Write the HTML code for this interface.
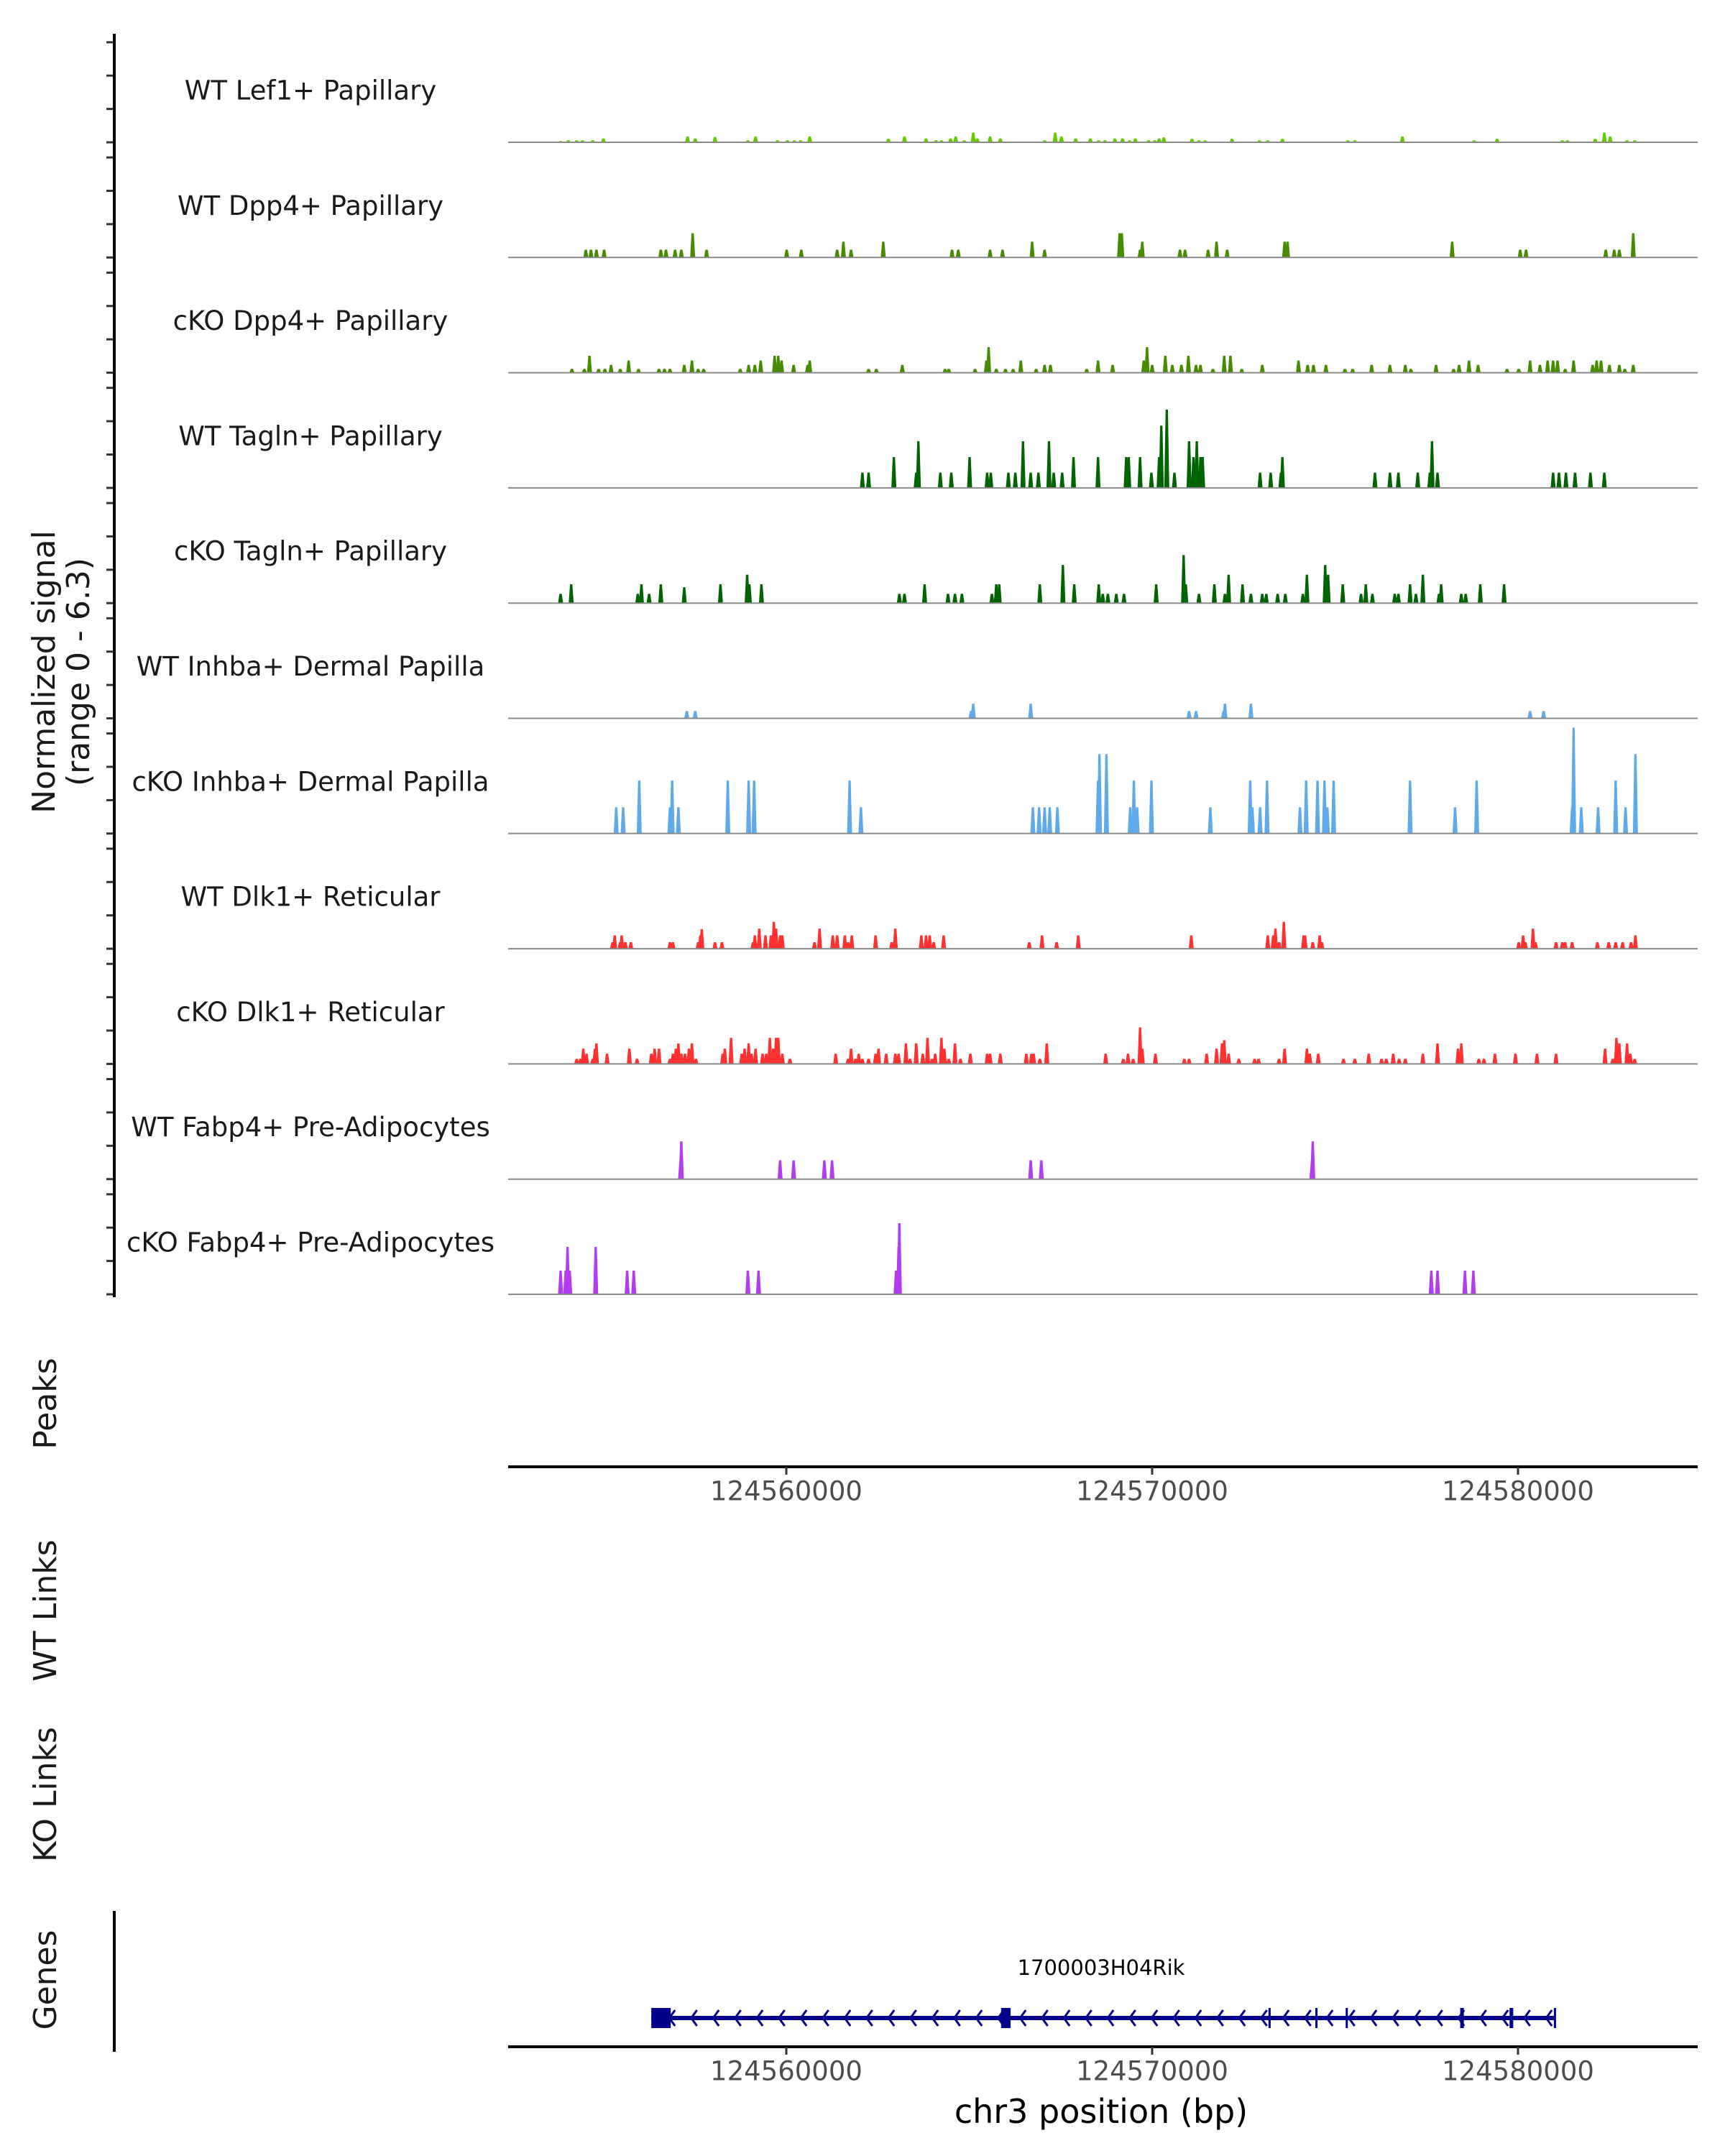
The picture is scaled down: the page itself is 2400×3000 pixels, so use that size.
<!DOCTYPE html>
<html><head><meta charset="utf-8"><style>
html,body{margin:0;padding:0;background:#fff;}
svg{display:block;font-family:"DejaVu Sans","Liberation Sans",sans-serif;}
</style></head><body>
<svg id="chart" width="2400" height="3000" viewBox="0 0 2400 3000" xmlns="http://www.w3.org/2000/svg">
<rect width="2400" height="3000" fill="#fff"/>
<g id="tracks"></g>
<g id="yaxis"></g>
<text transform="translate(86,935) rotate(-90)" text-anchor="middle" font-size="44" fill="#1a1a1a"><tspan x="0" dy="-10">Normalized signal</tspan><tspan x="0" dy="48">(range 0 - 6.3)</tspan></text>
<text transform="translate(78,1953) rotate(-90)" text-anchor="middle" font-size="44" fill="#1a1a1a">Peaks</text>
<text transform="translate(78,2241) rotate(-90)" text-anchor="middle" font-size="44" fill="#1a1a1a">WT Links</text>
<text transform="translate(78,2497) rotate(-90)" text-anchor="middle" font-size="44" fill="#1a1a1a">KO Links</text>
<text transform="translate(78,2755) rotate(-90)" text-anchor="middle" font-size="44" fill="#1a1a1a">Genes</text>
<line x1="159" y1="2659" x2="159" y2="2855" stroke="#000" stroke-width="4"/>
<g id="xaxes"></g>
<g id="gene"></g>
<text x="1532" y="2954" text-anchor="middle" font-size="46" fill="#000">chr3 position (bp)</text>
</svg>
<script>
// region offset in kb from 124,550,000
const regionStart = 124550000;
const xDomain = [2.397, 34.912];
const xTicksKb = [10, 20, 30];
const xTickLabels = ["124560000", "124570000", "124580000"];
const yTicks = [0, 2, 4, 6];
const trackNames = ["WT Lef1+ Papillary","WT Dpp4+ Papillary","cKO Dpp4+ Papillary","WT Tagln+ Papillary","cKO Tagln+ Papillary","WT Inhba+ Dermal Papilla","cKO Inhba+ Dermal Papilla","WT Dlk1+ Reticular","cKO Dlk1+ Reticular","WT Fabp4+ Pre-Adipocytes","cKO Fabp4+ Pre-Adipocytes"];
const trackColors = ["#62cc00","#468c00","#468c00","#006400","#006400","#5eaaea","#5eaaea","#ff3030","#ff3030","#b23cf0","#b23cf0"];

const lef1Pos = [3.83,4.04,4.27,4.43,4.71,5.0,7.30,7.51,8.05,8.95,9.16,9.76,10.03,10.22,10.39,10.64,12.79,13.23,13.82,14.09,14.24,14.49,14.63,14.86,15.11,15.22,15.57,15.85,17.06,17.35,17.52,17.91,18.31,18.54,18.71,18.98,19.19,19.38,19.54,19.90,20.07,20.19,20.32,21.09,21.28,21.45,22.18,22.93,23.16,23.56,25.35,25.54,26.84,28.80,29.43,31.21,31.35,32.11,32.36,32.52,32.98,33.19];
const lef1Val = [.07,.11,.11,.11,.11,.21,.32,.21,.29,.11,.32,.11,.11,.11,.11,.32,.19,.32,.21,.11,.11,.21,.32,.11,.53,.21,.32,.21,.11,.53,.32,.21,.21,.11,.11,.21,.21,.11,.21,.11,.11,.21,.27,.19,.11,.11,.19,.11,.11,.19,.11,.11,.32,.11,.19,.11,.11,.19,.53,.32,.11,.11];

const wtDpp4Pos = [4.52,4.66,4.81,5.02,6.57,6.71,6.96,7.13,7.44,7.82,10.01,10.41,11.39,11.56,11.77,12.65,14.53,14.70,15.57,15.91,16.72,17.06,19.11,19.17,19.67,19.73,20.76,20.90,21.53,21.76,22.05,23.62,23.70,28.20,30.06,30.22,32.40,32.63,32.77,33.15];
const wtDpp4Val = [.43,.43,.43,.43,.43,.43,.43,.43,1.33,.43,.43,.43,.43,.87,.43,.87,.43,.43,.43,.43,.87,.43,1.33,1.33,.43,.87,.43,.43,.43,.87,.43,.87,.87,.87,.43,.43,.43,.43,.43,1.33];

const koDpp4Pos = [4.14,4.48,4.62,4.87,5.04,5.21,5.46,5.69,5.96,6.52,6.67,6.82,7.21,7.42,7.59,7.74,8.74,8.97,9.14,9.30,9.68,9.78,9.87,10.20,10.58,10.64,12.25,12.46,13.17,14.34,14.44,15.16,15.47,15.53,15.74,15.99,16.20,16.41,16.83,17.06,17.22,18.21,18.52,18.92,19.77,19.86,20.00,20.36,20.55,20.80,20.99,21.20,21.32,21.66,21.97,22.14,22.45,23.01,24.00,24.25,24.41,24.75,25.27,25.48,26.00,26.50,26.92,27.07,27.76,28.24,28.39,28.66,28.91,29.70,30.02,30.33,30.60,30.81,30.96,31.08,31.29,31.52,32.04,32.15,32.27,32.50,32.77,32.92,33.15];
const koDpp4Val = [.21,.21,.93,.21,.21,.43,.21,.67,.21,.21,.21,.21,.43,.67,.21,.21,.21,.43,.43,.67,.93,.93,.67,.43,.43,.67,.21,.21,.43,.21,.21,.21,.67,1.4,.21,.21,.21,.67,.21,.43,.43,.21,.67,.43,.67,1.4,.43,.93,.43,.43,.93,.43,.43,.21,.93,.93,.21,.43,.67,.43,.43,.43,.21,.21,.43,.43,.43,.21,.43,.21,.43,.67,.43,.21,.21,.67,.43,.67,.67,.67,.21,.67,.43,.67,.67,.43,.43,.21,.43];

const wtTaglnPos = [12.08,12.25,12.94,13.55,13.61,14.21,14.51,15.01,15.49,15.59,16.07,16.26,16.47,16.68,16.89,17.18,17.31,17.54,17.85,18.52,19.29,19.36,19.67,19.98,20.19,20.25,20.40,20.61,21.01,21.13,21.22,21.32,21.38,22.95,23.24,23.52,23.56,26.09,26.50,26.73,27.26,27.59,27.65,27.80,30.96,31.12,31.31,31.56,31.98,32.36];
const wtTaglnVal = [.84,.84,1.69,.84,2.56,.84,.84,1.69,.84,.84,.84,.84,2.56,.84,.84,2.56,.84,.84,1.69,1.69,1.69,1.69,1.69,.84,1.69,3.41,4.29,.84,2.56,1.69,2.56,1.69,1.69,.84,.84,.84,1.69,.84,.84,.84,.84,.84,2.56,.84,.84,.84,.84,.84,.84,.84];

const koTaglnPos = [3.83,4.12,5.94,6.04,6.25,6.57,7.21,8.20,8.93,8.99,9.32,13.09,13.23,13.78,14.42,14.61,14.80,15.62,15.74,15.82,16.93,17.56,17.87,18.54,18.65,18.79,19.02,19.23,20.11,20.86,20.92,21.28,21.70,21.99,22.09,22.47,22.70,23.01,23.12,23.43,23.64,24.12,24.23,24.73,24.81,25.21,25.71,25.84,26.02,26.63,26.73,27.05,27.21,27.40,27.84,27.90,28.45,28.57,28.97,29.62];
const koTaglnVal = [.51,1.03,.51,1.03,.51,1.03,.87,1.03,1.56,1.03,1.03,.51,.51,1.03,.51,.51,.51,.51,1.03,1.03,1.03,2.09,1.03,1.03,.51,.51,.51,.51,1.03,2.63,1.03,.51,1.03,.51,1.56,1.03,.51,.51,.51,.51,.51,.51,1.56,2.09,1.56,1.03,.51,1.03,.51,.51,.51,1.03,.51,1.56,.51,1.03,.51,.51,1.03,1.03];

const wtInhbaPos = [7.28,7.51,15.05,15.11,16.68,21.01,21.20,21.95,21.99,22.70,30.33,30.70];
const wtInhbaVal = [.4,.4,.4,.8,.8,.4,.4,.4,.8,.8,.4,.4];

const koInhbaPos = [5.35,5.54,5.98,6.82,6.88,7.05,8.40,8.97,9.12,11.73,12.04,16.74,16.91,17.06,17.20,17.41,18.52,18.56,18.75,19.40,19.50,19.59,19.98,21.59,22.68,22.74,22.95,23.14,24.04,24.21,24.52,24.71,24.79,24.96,27.05,28.28,28.87,31.48,31.52,31.73,32.19,32.67,32.94,33.21];
const koInhbaVal = [1.44,1.44,2.9,1.44,2.9,1.44,2.9,2.9,2.9,2.9,1.44,1.44,1.44,1.44,1.44,1.44,2.9,4.35,4.35,1.44,2.9,1.44,2.9,1.44,2.9,1.44,1.44,2.9,1.44,2.9,2.9,2.9,1.44,2.9,2.9,1.44,2.9,1.44,5.8,1.44,1.44,2.9,1.44,4.35];

const wtDlk1Pos = [5.25,5.31,5.46,5.50,5.60,5.75,6.82,6.90,7.59,7.65,7.69,8.05,8.24,9.09,9.14,9.26,9.43,9.58,9.66,9.72,9.83,9.89,10.77,10.91,11.27,11.39,11.60,11.69,11.79,12.44,12.88,12.98,13.69,13.82,13.92,14.03,14.30,16.64,16.99,17.39,17.98,21.07,23.16,23.31,23.37,23.47,23.60,24.14,24.18,24.39,24.58,24.64,30.02,30.14,30.20,30.41,30.48,31.04,31.21,31.29,31.48,32.17,32.48,32.67,32.86,33.09,33.21];
const wtDlk1Val = [.36,.73,.36,.73,.36,.36,.36,.36,.36,.73,1.07,.36,.36,.36,.73,1.1,.73,.73,1.47,1.1,.73,.73,.36,1.1,.73,.73,.73,.36,.73,.73,.36,1.1,.73,.73,.73,.36,.73,.36,.73,.36,.73,.73,.73,.73,1.1,.36,1.47,.73,.73,.36,.73,.36,.36,.73,.36,1.1,.36,.36,.36,.36,.36,.36,.36,.36,.36,.36,.73];

const koDlk1Pos = [4.27,4.37,4.45,4.54,4.71,4.77,4.81,5.10,5.71,5.92,6.31,6.40,6.52,6.82,6.90,6.98,7.05,7.13,7.23,7.34,7.42,7.53,8.26,8.32,8.49,8.78,8.86,8.97,9.05,9.16,9.35,9.45,9.55,9.64,9.72,9.78,9.89,10.10,11.35,11.69,11.77,11.89,11.98,12.08,12.25,12.44,12.52,12.73,12.98,13.07,13.27,13.38,13.55,13.73,13.86,13.98,14.07,14.24,14.32,14.44,14.61,14.76,15.03,15.49,15.57,15.85,16.56,16.70,16.76,16.93,17.12,18.73,19.21,19.34,19.48,19.67,19.73,20.09,20.88,21.01,21.49,21.76,21.91,21.97,22.09,22.37,22.80,22.91,23.47,23.62,24.23,24.31,24.54,25.23,25.54,25.92,26.27,26.40,26.59,26.75,26.92,27.40,27.80,28.36,28.45,28.93,29.07,29.37,29.93,30.52,31.04,32.38,32.59,32.69,32.77,32.98,33.07,33.19];
const koDlk1Val = [.28,.28,.84,.56,.28,.84,1.13,.56,.84,.28,.56,.84,.84,.28,.56,.84,1.13,.56,.56,.84,1.13,.28,.56,.84,1.43,.56,.84,1.13,.56,.84,.56,.56,1.43,.84,1.43,1.43,.56,.28,.56,.28,.84,.28,.56,.28,.28,.56,.84,.56,.56,.56,1.13,.28,1.13,.56,1.43,.28,.56,1.43,.84,.28,1.13,.28,.56,.56,.56,.56,.56,.56,.56,.28,1.13,.56,.28,.56,.28,2.0,.84,.56,.28,.28,.56,.84,1.13,1.3,.56,.28,.28,.28,.28,.84,.84,.56,.56,.28,.28,.56,.28,.28,.56,.28,.28,.56,1.13,.84,1.13,.28,.28,.56,.56,.56,.56,.84,.28,1.43,1.13,1.13,.56,.28];

const wtFabp4Pos = [7.11,7.13,9.83,10.20,11.04,11.25,16.68,16.97,24.37,24.39];
const wtFabp4Val = [1.03,2.07,1.03,1.03,1.03,1.03,1.03,1.03,1.03,2.07];

const koFabp4Pos = [3.83,3.97,4.02,4.08,4.79,5.65,5.83,8.95,9.24,13.00,13.07,13.09,27.63,27.80,28.55,28.78];
const koFabp4Val = [1.3,1.3,2.6,1.3,2.6,1.3,1.3,1.3,1.3,1.3,2.6,3.9,1.3,1.3,1.3,1.3];

const trackPos = [lef1Pos,wtDpp4Pos,koDpp4Pos,wtTaglnPos,koTaglnPos,wtInhbaPos,koInhbaPos,wtDlk1Pos,koDlk1Pos,wtFabp4Pos,koFabp4Pos];
const trackVal = [lef1Val,wtDpp4Val,koDpp4Val,wtTaglnVal,koTaglnVal,wtInhbaVal,koInhbaVal,wtDlk1Val,koDlk1Val,wtFabp4Val,koFabp4Val];

// gene model (kb offsets)
const geneSpan = [6.31, 31.02];
const exonStarts = [6.31,15.87,23.18,24.46,25.29,28.42,29.77,30.98];
const exonEnds   = [6.84,16.13,23.24,24.52,25.33,28.52,29.87,31.04];

const NS = "http://www.w3.org/2000/svg";
const X0 = 707, X1 = 2362;
function xs(kb){ return X0 + (kb - xDomain[0]) / (xDomain[1] - xDomain[0]) * (X1 - X0); }
const base0 = 198, trackStep = 160.3, unitPx = 25.4, tickUnitPx = 23.2;
function baseY(i){ return base0 + i * trackStep; }
function ys(i, v){ return baseY(i) - v * unitPx; }
function mk(tag, attrs, parent){ const e = document.createElementNS(NS, tag); for (const k in attrs) e.setAttribute(k, attrs[k]); parent.appendChild(e); return e; }

const gT = document.getElementById('tracks');
const gY = document.getElementById('yaxis');
for (let i = 0; i < trackNames.length; i++) {
  const g = mk('g', {}, gT);
  
  
  const lab = mk('text', {x: 432, y: baseY(i) - 72, 'text-anchor': 'middle', 'dominant-baseline': 'central', 'font-size': 37, fill: '#1a1a1a'}, g);
  lab.textContent = trackNames[i];
  
  
  const pos = trackPos[i], val = trackVal[i];
  for (let j = 0; j < pos.length; j++) {
    const x = xs(pos[j]), b = baseY(i), t = ys(i, val[j]);
    const p = mk('polygon', {points: `${x-3.5},${b} ${x-1.6},${t} ${x+1.6},${t} ${x+3.5},${b}`, fill: trackColors[i]}, g);
    
    
  }
  const bl = mk('line', {x1: X0, x2: X1, y1: baseY(i), y2: baseY(i), stroke: '#8a8a8a', 'stroke-width': 2}, g);
  
  
  for (const tv of yTicks) {
    const ty = baseY(i) - tv * tickUnitPx;
    const tk = mk('line', {x1: 148, x2: 159, y1: ty, y2: ty, stroke: '#333', 'stroke-width': 3}, gY);
    
    
  }
}
const ax = mk('line', {x1: 159, x2: 159, y1: 47, y2: 1805, stroke: '#000', 'stroke-width': 4}, gY);



const gX = document.getElementById('xaxes');
function xAxis(y, name, labelY){
  const l = mk('line', {x1: X0, x2: X1, y1: y, y2: y, stroke: '#000', 'stroke-width': 4}, gX);
  
  
  for (let k = 0; k < xTicksKb.length; k++) {
    const x = xs(xTicksKb[k]);
    const t = mk('line', {x1: x, x2: x, y1: y, y2: y + 11, stroke: '#333', 'stroke-width': 3}, gX);
    
    
    const tx = mk('text', {x: x, y: labelY, 'text-anchor': 'middle', 'dominant-baseline': 'central', 'font-size': 37, fill: '#4d4d4d'}, gX);
    tx.textContent = xTickLabels[k];
    
    
  }
}
xAxis(2041, 'peaks-x-axis', 2075);
xAxis(2848, 'genes-x-axis', 2882);

const gG = document.getElementById('gene');
const gy = 2808;
const gl = mk('text', {x: 1532, y: 2738, 'text-anchor': 'middle', 'dominant-baseline': 'central', 'font-size': 29, fill: '#000'}, gG);
gl.textContent = '1700003H04Rik';


const gline = mk('line', {x1: xs(geneSpan[0]), x2: xs(geneSpan[1]), y1: gy, y2: gy, stroke: '#00008b', 'stroke-width': 6}, gG);


for (let x = xs(geneSpan[0]) + 28; x < xs(geneSpan[1]) - 6; x += 30.5) {
  const c = mk('polyline', {points: `${x+5},${gy-11} ${x-3},${gy} ${x+5},${gy+11}`, fill: 'none', stroke: '#00008b', 'stroke-width': 3}, gG);
  
  
}
for (let k = 0; k < exonStarts.length; k++) {
  const x1 = xs(exonStarts[k]), x2 = xs(exonEnds[k]);
  const r = mk('rect', {x: x1, y: gy - 14, width: Math.max(3, x2 - x1), height: 28, fill: '#00008b'}, gG);
  
  
}
</script>
</body></html>
